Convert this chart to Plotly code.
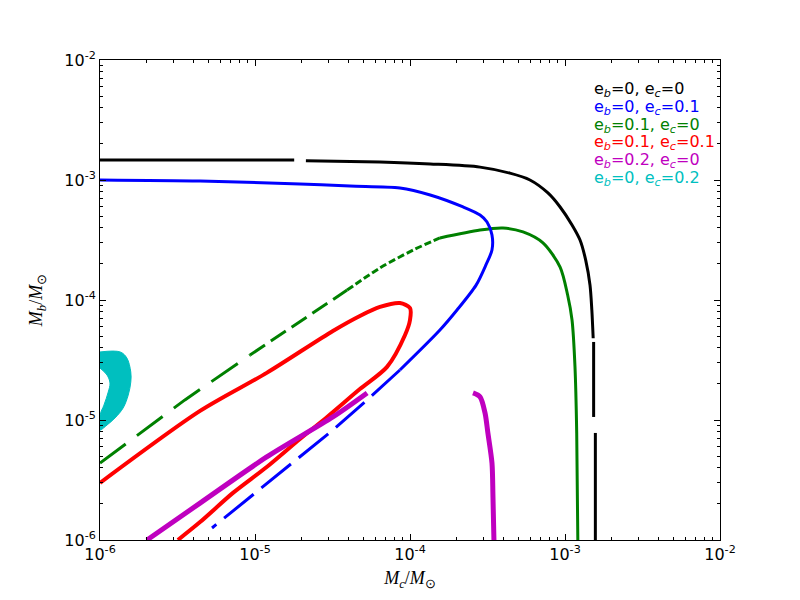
import plotly.graph_objects as go

# ---------------- data (solar masses) ----------------
black_mc = [1.0e-6, 1.79e-5, None, 2.13e-5, 6.4e-5, 1.35e-4, 2.83e-4, 4.41e-4, 5.94e-4, 7.76e-4,
            9.3e-4, 1.11e-3, 1.25e-3, 1.36e-3, 1.45e-3, 1.49e-3, 1.52e-3, None, 1.53e-3, 1.53e-3,
            None, 1.57e-3, 1.57e-3]
black_mb = [1.47e-3, 1.47e-3, None, 1.45e-3, 1.41e-3, 1.36e-3, 1.28e-3, 1.14e-3, 1.0e-3, 7.8e-4,
            5.96e-4, 4.22e-4, 3.16e-4, 2.15e-4, 1.33e-4, 8.25e-5, 4.8e-5, None, 4.47e-5, 1.06e-5,
            None, 7.8e-6, 1.0e-6]

blue_mc = [1e-6, 4.42e-6, 1.95e-5, 4.1e-5, 8.61e-5, 1.35e-4, 2.2e-4, 2.83e-4, 3.14e-4, 3.38e-4,
           3.38e-4, 3.09e-4, 2.67e-4, 2.01e-4, 1.56e-4, 8.61e-5, 5.29e-5, 3.18e-5, 1.95e-5,
           1.13e-5, 5.28e-6]
blue_mb = [1.0e-3, 9.8e-4, 9.27e-4, 8.9e-4, 8.58e-4, 7.5e-4, 5.96e-4, 5.11e-4, 4.47e-4, 3.48e-4,
           2.61e-4, 1.96e-4, 1.33e-4, 8.25e-5, 5.62e-5, 2.61e-5, 1.47e-5, 8.25e-6, 4.92e-6,
           2.77e-6, 1.26e-6]

green_mc = [1e-6, 1.81e-6, 3.53e-6, 9.29e-6, 1.95e-5, 3.93e-5, 6.4e-5, 1.05e-4, 1.56e-4, 2.83e-4,
            3.98e-4, 5.36e-4, 7.21e-4, 9.3e-4, 1.04e-3, 1.11e-3, 1.16e-3, 1.19e-3, 1.21e-3]
green_mb = [4.38e-6, 7.8e-6, 1.47e-5, 3.48e-5, 6.56e-5, 1.21e-4, 1.85e-4, 2.61e-4, 3.29e-4, 3.83e-4,
            3.98e-4, 3.69e-4, 2.99e-4, 1.88e-4, 1.1e-4, 6.81e-5, 2.77e-5, 7.8e-6, 1e-6]

red_mc = [1e-6, 4.42e-6, 1.19e-5, 3.18e-5, 4.75e-5, 6.4e-5, 8.61e-5, 1e-4, 1e-4, 9.29e-5, 7.11e-5,
          4.75e-5, 2.92e-5, 1.95e-5, 1.19e-5, 7.21e-6, 4.42e-6, 3.18e-6]
red_mb = [2.99e-6, 1.19e-5, 2.47e-5, 5.52e-5, 7.36e-5, 8.75e-5, 9.44e-5, 8.58e-5, 6.81e-5, 5.11e-5,
          2.77e-5, 1.81e-5, 1.06e-5, 6.95e-6, 4.06e-6, 2.47e-6, 1.41e-6, 1e-6]

magenta_mc = [2.01e-6, 4.42e-6, 1.19e-5, 3.18e-5, 5.29e-5, None,
              2.55e-4, 2.83e-4, 3.05e-4, 3.18e-4, 3.38e-4, 3.43e-4, 3.48e-4]
magenta_mb = [1e-6, 2.03e-6, 4.92e-6, 1.06e-5, 1.68e-5, None,
              1.68e-5, 1.56e-5, 1.14e-5, 7.8e-6, 4.38e-6, 2.28e-6, 1e-6]

cyan_mc = [1e-6, 1.35e-6, 1.49e-6, 1.58e-6, 1.58e-6, 1.52e-6, 1.41e-6, 1.25e-6, 1.11e-6, 1.01e-6,
           1e-6, 1e-6, 1.06e-6, 1.13e-6, 1.16e-6, 1.11e-6, 1e-6]
cyan_mb = [3.69e-5, 3.69e-5, 3.29e-5, 2.51e-5, 2.07e-5, 1.61e-5, 1.26e-5, 1.04e-5, 9.08e-6, 8.25e-6,
           8.25e-6, 1.1e-5, 1.33e-5, 1.71e-5, 2.03e-5, 2.37e-5, 2.71e-5]

labels = ["e<sub><i>b</i></sub>=0, e<sub><i>c</i></sub>=0",
          "e<sub><i>b</i></sub>=0, e<sub><i>c</i></sub>=0.1",
          "e<sub><i>b</i></sub>=0.1, e<sub><i>c</i></sub>=0",
          "e<sub><i>b</i></sub>=0.1, e<sub><i>c</i></sub>=0.1",
          "e<sub><i>b</i></sub>=0.2, e<sub><i>c</i></sub>=0",
          "e<sub><i>b</i></sub>=0, e<sub><i>c</i></sub>=0.2"]
tick_vals = [1e-6, 1e-5, 1e-4, 1e-3, 1e-2]
tick_text = ["10<sup>-6</sup>", "10<sup>-5</sup>", "10<sup>-4</sup>", "10<sup>-3</sup>", "10<sup>-2</sup>"]

# ---------------- styles ----------------
colors = ["#000000", "#0000ff", "#008000", "#ff0000", "#bf00bf", "#00bfbf"]

fig = go.Figure()


def add_seg(xs, ys, color, width, dash="solid", i0=0, i1=None, shape="linear"):
    i1 = len(xs) if i1 is None else i1 + 1
    fig.add_trace(go.Scatter(x=xs[i0:i1], y=ys[i0:i1], mode="lines", connectgaps=False,
                             line=dict(color=color, width=width, dash=dash, shape=shape,
                                       smoothing=0.8),
                             showlegend=False, hoverinfo="skip"))


# cyan filled crescent
fig.add_trace(go.Scatter(x=cyan_mc, y=cyan_mb, mode="lines", fill="toself",
                         fillcolor=colors[5], line=dict(color=colors[5], width=1, shape="spline"),
                         showlegend=False, hoverinfo="skip"))
# red loop
add_seg(red_mc, red_mb, colors[3], 4, shape="spline")
# magenta
add_seg(magenta_mc, magenta_mb, colors[4], 5, shape="spline")
# green
add_seg(green_mc, green_mb, colors[2], 3, "32px,14px", 0, 3)
add_seg(green_mc, green_mb, colors[2], 3, "18px,7px", 3, 5)
add_seg(green_mc, green_mb, colors[2], 3, "7px,3px", 5, 8, shape="spline")
add_seg(green_mc, green_mb, colors[2], 3, "solid", 8, shape="spline")
# blue
add_seg(blue_mc, blue_mb, colors[1], 3, "solid", 0, 15, shape="spline")
add_seg(blue_mc, blue_mb, colors[1], 3, "38px,10px", 15)
# black
add_seg(black_mc, black_mb, colors[0], 3, shape="spline")

# text legend
for k, (lab, col) in enumerate(zip(labels, colors)):
    fig.add_annotation(xref="paper", yref="paper", x=0.793, y=0.938 - k * 0.0368,
                       xanchor="left", yanchor="middle", showarrow=False, text=lab,
                       font=dict(family="DejaVu Sans", size=16, color=col))

axis_common = dict(type="log", showgrid=False, zeroline=False, showline=True, linecolor="black",
                   linewidth=1, mirror="allticks", ticks="inside", ticklen=6, tickwidth=1,
                   tickcolor="black", tickmode="array", tickvals=tick_vals, ticktext=tick_text,
                   tickfont=dict(family="DejaVu Sans", size=16, color="black"),
                   minor=dict(ticks="inside", ticklen=3, tickwidth=1, tickcolor="black",
                              dtick="D1", showgrid=False))

# page is shown with an 8px body offset, so margins compensate
fig.update_layout(
    width=800, height=600, margin=dict(l=92, r=88, t=52, b=68),
    paper_bgcolor="white", plot_bgcolor="white",
    xaxis=dict(range=[-6, -2], title=dict(text="<i>M<sub>c</sub></i>/<i>M</i><sub>⊙</sub>",
                                          font=dict(family="Liberation Serif", size=18, color="black"),
                                          standoff=8), **axis_common),
    yaxis=dict(range=[-6, -2], title=dict(text="<i>M<sub>b</sub></i>/<i>M</i><sub>⊙</sub>",
                                          font=dict(family="Liberation Serif", size=18, color="black"),
                                          standoff=16), **axis_common),
)

fig.write_html("out.html")
